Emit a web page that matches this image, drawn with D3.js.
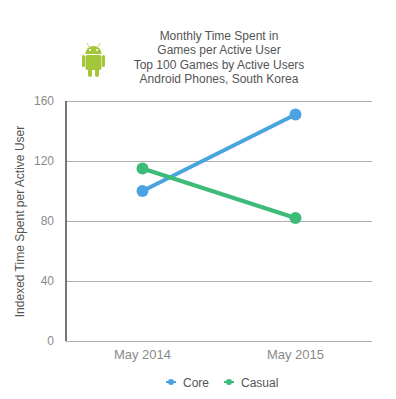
<!DOCTYPE html>
<html>
<head>
<meta charset="utf-8">
<script src="https://cdnjs.cloudflare.com/ajax/libs/d3/7.8.5/d3.min.js"></script>
<style>
html, body { margin: 0; padding: 0; background: #fff; }
text { font-family: "Liberation Sans", Arial, sans-serif; }
</style>
</head>
<body>
<div id="chart"></div>
<script>
// values
var categories = ["May 2014", "May 2015"];
var coreValues = [100, 151];
var casualValues = [115, 82];
var seriesNames = ["Core", "Casual"];
var yTicks = [0, 40, 80, 120, 160];
var titleLines = ["Monthly Time Spent in", "Games per Active User", "Top 100 Games by Active Users", "Android Phones, South Korea"];
var yLabel = "Indexed Time Spent per Active User";

var colors = {Core: "#4ba3e2", Casual: "#3dbb78"};

var width = 396, height = 399;
var margin = {top: 101, right: 24, bottom: 58, left: 66};

var svg = d3.select("#chart").append("svg")
	.attr("width", width)
	.attr("height", height)
	.style("display", "block");

var x = d3.scaleBand()
	.domain(categories)
	.range([margin.left, width - margin.right]);

var y = d3.scaleLinear()
	.domain([0, 160])
	.range([height - margin.bottom, margin.top]);

//Grid lines and tick labels
var yAxis = svg.append("g")
	.attr("transform", "translate(" + margin.left + ",0)")
	.call(d3.axisLeft(y).tickValues(yTicks).tickSize(-(width - margin.left - margin.right)).tickPadding(12));
yAxis.select(".domain").remove();
yAxis.selectAll("line").attr("stroke", "#b0b0b0").attr("stroke-width", 1);
yAxis.selectAll("text").attr("fill", "#8a8a8a").style("font-size", "12px");

//Dark vertical axis line
svg.append("line")
	.attr("x1", margin.left).attr("x2", margin.left)
	.attr("y1", y(160)).attr("y2", y(0))
	.attr("stroke", "#4a4a4a")
	.attr("stroke-width", 1.5);

var xAxis = svg.append("g")
	.attr("transform", "translate(0," + y(0) + ")")
	.call(d3.axisBottom(x).tickSize(0).tickPadding(9));
xAxis.select(".domain").remove();
xAxis.selectAll("text").attr("fill", "#8a8a8a").style("font-size", "13px");

//Lines and points
var line = d3.line()
	.x(function(d, i) { return x(categories[i]) + x.bandwidth() / 2; })
	.y(function(d) { return y(d); });

[["Core", coreValues], ["Casual", casualValues]].forEach(function(s) {
	var g = svg.append("g");
	g.append("path")
		.attr("d", line(s[1]))
		.attr("fill", "none")
		.attr("stroke", colors[s[0]])
		.attr("stroke-width", 4);
	g.selectAll("circle")
		.data(s[1])
		.enter().append("circle")
		.attr("cx", function(d, i) { return x(categories[i]) + x.bandwidth() / 2; })
		.attr("cy", function(d) { return y(d); })
		.attr("r", 6)
		.attr("fill", colors[s[0]]);
});

//Title
svg.append("g").selectAll("text")
	.data(titleLines)
	.enter().append("text")
	.attr("x", 219)
	.attr("y", function(d, i) { return 40 + i * 14.3; })
	.attr("text-anchor", "middle")
	.attr("fill", "#555")
	.style("font-size", "12px")
	.text(function(d) { return d; });

//Y axis title
svg.append("text")
	.attr("transform", "translate(24,221.5) rotate(-90)")
	.attr("text-anchor", "middle")
	.attr("fill", "#555")
	.style("font-size", "12px")
	.text(yLabel);

//Legend
var legendX = [171, 229];
var legend = svg.append("g").selectAll("g")
	.data(seriesNames)
	.enter().append("g")
	.attr("transform", function(d, i) { return "translate(" + legendX[i] + ",382)"; });
legend.append("line")
	.attr("x1", -5).attr("x2", 5)
	.attr("stroke", function(d) { return colors[d]; })
	.attr("stroke-width", 2);
legend.append("circle")
	.attr("r", 3)
	.attr("fill", function(d) { return colors[d]; });
legend.append("text")
	.attr("x", 12)
	.attr("y", 4.5)
	.attr("fill", "#555")
	.style("font-size", "12px")
	.text(function(d) { return d; });

//Android logo
var logoColor = "#a4c639";
var logo = svg.append("g").attr("transform", "translate(93.5,60)");
logo.append("path") // head
	.attr("d", d3.arc().innerRadius(0).outerRadius(8).startAngle(-Math.PI / 2).endAngle(Math.PI / 2))
	.attr("transform", "translate(0,-6)")
	.attr("fill", logoColor);
logo.append("rect").attr("x", -8).attr("y", -5).attr("width", 16).attr("height", 15).attr("rx", 2).attr("fill", logoColor);
logo.append("rect").attr("x", -11.5).attr("y", -5).attr("width", 3).attr("height", 12).attr("rx", 1.5).attr("fill", logoColor);
logo.append("rect").attr("x", 8.5).attr("y", -5).attr("width", 3).attr("height", 12).attr("rx", 1.5).attr("fill", logoColor);
logo.append("rect").attr("x", -5.5).attr("y", 8).attr("width", 4).attr("height", 9).attr("rx", 2).attr("fill", logoColor);
logo.append("rect").attr("x", 1.5).attr("y", 8).attr("width", 4).attr("height", 9).attr("rx", 2).attr("fill", logoColor);
logo.append("line").attr("x1", -4.5).attr("y1", -13).attr("x2", -6.5).attr("y2", -17).attr("stroke", logoColor).attr("stroke-width", 0.8);
logo.append("line").attr("x1", 4.5).attr("y1", -13).attr("x2", 6.5).attr("y2", -17).attr("stroke", logoColor).attr("stroke-width", 0.8);
logo.append("circle").attr("cx", -3.5).attr("cy", -10).attr("r", 1).attr("fill", "#fff");
logo.append("circle").attr("cx", 3.5).attr("cy", -10).attr("r", 1).attr("fill", "#fff");
</script>
</body>
</html>
